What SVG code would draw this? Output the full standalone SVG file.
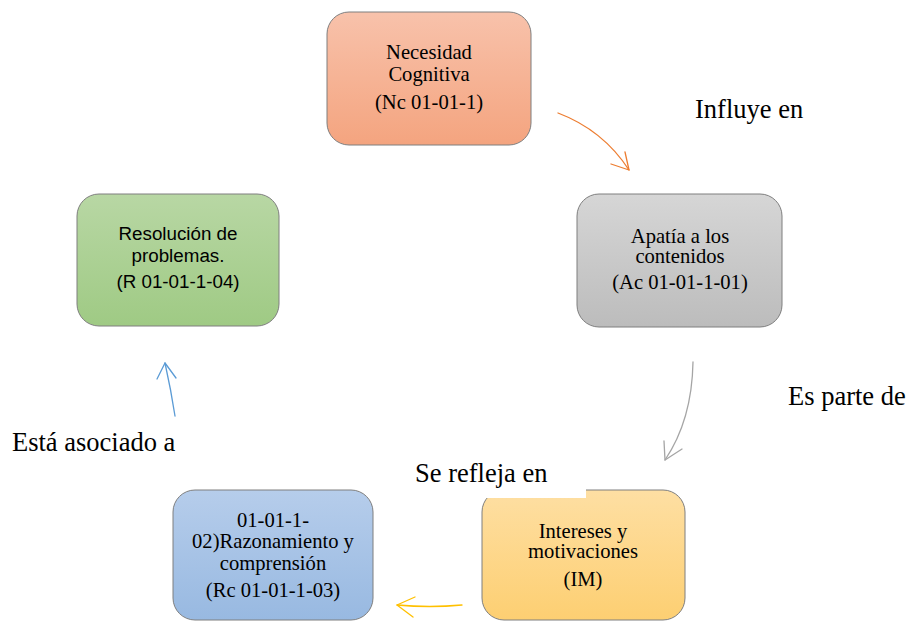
<svg xmlns="http://www.w3.org/2000/svg" width="908" height="621" viewBox="0 0 908 621">
  <defs>
    <linearGradient id="gOrange" x1="0" y1="0" x2="0" y2="1">
      <stop offset="0" stop-color="#f8c2ab"/>
      <stop offset="1" stop-color="#f4a47f"/>
    </linearGradient>
    <linearGradient id="gGray" x1="0" y1="0" x2="0" y2="1">
      <stop offset="0" stop-color="#d6d6d6"/>
      <stop offset="1" stop-color="#bcbcbc"/>
    </linearGradient>
    <linearGradient id="gGreen" x1="0" y1="0" x2="0" y2="1">
      <stop offset="0" stop-color="#b8d7a4"/>
      <stop offset="1" stop-color="#9fca84"/>
    </linearGradient>
    <linearGradient id="gBlue" x1="0" y1="0" x2="0" y2="1">
      <stop offset="0" stop-color="#b6cdeb"/>
      <stop offset="1" stop-color="#98b9e1"/>
    </linearGradient>
    <linearGradient id="gYellow" x1="0" y1="0" x2="0" y2="1">
      <stop offset="0" stop-color="#fedfa3"/>
      <stop offset="1" stop-color="#fdcf72"/>
    </linearGradient>
  </defs>
  <style>
    .box { stroke: #7f7f7f; stroke-width: 1; }
    .serif { font-family: "Liberation Serif", "Times New Roman", serif; fill: #000; }
    .sans { font-family: "Liberation Sans", Arial, sans-serif; fill: #000; }
    .bt { font-size: 20.6px; text-anchor: middle; }
    .bs { font-size: 18.8px; text-anchor: middle; }
    .lbl { font-size: 26.5px; }
    .arr { fill: none; stroke-width: 1.3; stroke-linecap: round; stroke-linejoin: round; }
  </style>

  <rect width="908" height="621" fill="#ffffff"/>

  <!-- Necesidad Cognitiva -->
  <g id="node-nc">
    <rect class="box" x="327" y="12" width="204" height="133" rx="22" fill="url(#gOrange)"/>
    <text class="serif bt" x="429" y="59">Necesidad</text>
    <text class="serif bt" x="429" y="81">Cognitiva</text>
    <text class="serif bt" x="429" y="109">(Nc 01-01-1)</text>
  </g>

  <!-- Apatía a los contenidos -->
  <g id="node-ac">
    <rect class="box" x="577" y="194" width="205" height="133" rx="22" fill="url(#gGray)"/>
    <text class="serif bt" x="680" y="243">Apatía a los</text>
    <text class="serif bt" x="680" y="263">contenidos</text>
    <text class="serif bt" x="680" y="289">(Ac 01-01-1-01)</text>
  </g>

  <!-- Resolución de problemas -->
  <g id="node-r">
    <rect class="box" x="77" y="194" width="202" height="132" rx="22" fill="url(#gGreen)"/>
    <text class="sans bs" x="178" y="240">Resolución de</text>
    <text class="sans bs" x="178" y="262">problemas.</text>
    <text class="sans bs" x="178" y="288">(R 01-01-1-04)</text>
  </g>

  <!-- Razonamiento y comprensión -->
  <g id="node-rc">
    <rect class="box" x="173" y="490" width="200" height="130" rx="22" fill="url(#gBlue)"/>
    <text class="serif bt" x="273" y="527">01-01-1-</text>
    <text class="serif bt" x="273" y="548">02)Razonamiento y</text>
    <text class="serif bt" x="273" y="570">comprensión</text>
    <text class="serif bt" x="273" y="597">(Rc 01-01-1-03)</text>
  </g>

  <!-- Intereses y motivaciones -->
  <g id="node-im">
    <rect class="box" x="482" y="490" width="203" height="130" rx="22" fill="url(#gYellow)"/>
    <text class="serif bt" x="583" y="538">Intereses y</text>
    <text class="serif bt" x="583" y="558">motivaciones</text>
    <text class="serif bt" x="583" y="586">(IM)</text>
  </g>

  <!-- Connectors -->
  <g id="connectors">
    <g>
      <path class="arr" stroke="#ed7d31" d="M558,113 Q603,130 629,170"/>
      <path class="arr" stroke="#ed7d31" d="M611,164 L629,170 L625,152"/>
    </g>
    <g>
      <path class="arr" stroke="#a5a5a5" d="M693,362 Q692,420 665,460"/>
      <path class="arr" stroke="#a5a5a5" d="M664,441 L665,460 L682,449"/>
    </g>
    <g>
      <path class="arr" stroke="#ffc000" d="M462,605 Q430,608 397,605"/>
      <path class="arr" stroke="#ffc000" d="M415,597 L397,605 L413,617"/>
    </g>
    <g>
      <path class="arr" stroke="#5b9bd5" d="M175,416 Q171,390 165,363"/>
      <path class="arr" stroke="#5b9bd5" d="M157,379 L165,363 L176,378"/>
    </g>
  </g>

  <!-- Connector labels -->
  <g id="labels">
    <text class="serif lbl" x="695" y="118">Influye en</text>
    <text class="serif lbl" x="788" y="405">Es parte de</text>
    <text class="serif lbl" x="12" y="451">Está asociado a</text>
    <rect x="405" y="455" width="181" height="43" fill="#ffffff"/>
    <text class="serif lbl" x="415" y="482">Se refleja en</text>
  </g>
</svg>
